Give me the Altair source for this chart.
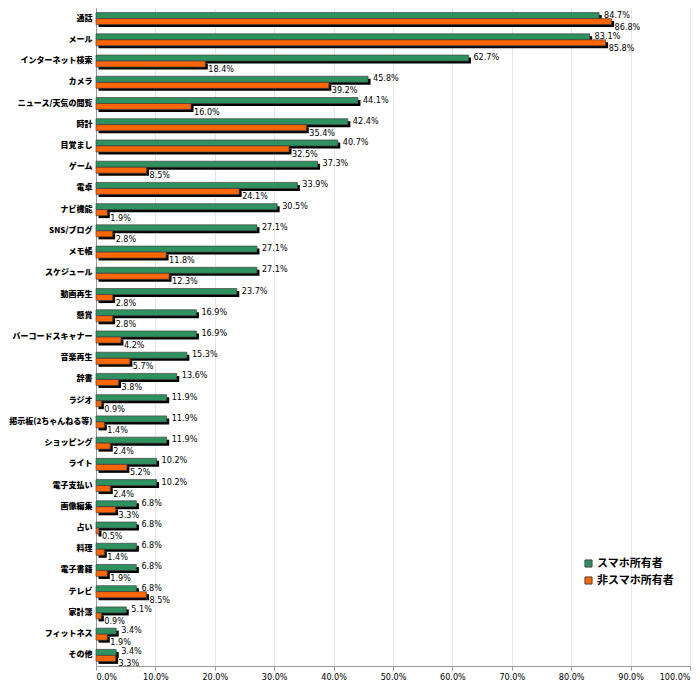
import altair as alt
import pandas as pd

categories = ["通話", "メール", "インターネット検索", "カメラ", "ニュース/天気の閲覧", "時計",
              "目覚まし", "ゲーム", "電卓", "ナビ機能", "SNS/ブログ", "メモ帳", "スケジュール",
              "動画再生", "懸賞", "バーコードスキャナー", "音楽再生", "辞書", "ラジオ",
              "掲示板(2ちゃんねる等)", "ショッピング", "ライト", "電子支払い", "画像編集", "占い",
              "料理", "電子書籍", "テレビ", "家計簿", "フィットネス", "その他"]
smartphone = [84.7, 83.1, 62.7, 45.8, 44.1, 42.4, 40.7, 37.3, 33.9, 30.5, 27.1, 27.1, 27.1,
              23.7, 16.9, 16.9, 15.3, 13.6, 11.9, 11.9, 11.9, 10.2, 10.2, 6.8, 6.8, 6.8, 6.8,
              6.8, 5.1, 3.4, 3.4]
non_smartphone = [86.8, 85.8, 18.4, 39.2, 16.0, 35.4, 32.5, 8.5, 24.1, 1.9, 2.8, 11.8, 12.3,
                  2.8, 2.8, 4.2, 5.7, 3.8, 0.9, 1.4, 2.4, 5.2, 2.4, 3.3, 0.5, 1.4, 1.9, 8.5,
                  0.9, 1.9, 3.3]
series_names = ["スマホ所有者", "非スマホ所有者"]
series_colors = ["#2e9160", "#ff6600"]
tick_values = [0, 10, 20, 30, 40, 50, 60, 70, 80, 90, 100]

rows = []
for c, a, b in zip(categories, smartphone, non_smartphone):
    rows.append({"cat": c, "series": series_names[0], "value": a, "label": f"{a:.1f}%"})
    rows.append({"cat": c, "series": series_names[1], "value": b, "label": f"{b:.1f}%"})
df = pd.DataFrame(rows)

NARROW = "DejaVu Sans Condensed, Liberation Sans Narrow, Roboto Condensed, Arial Narrow, sans-serif"
CJK = "Noto Sans CJK JP"

color_scale = alt.Scale(domain=series_names, range=series_colors)

base = alt.Chart(df).encode(
    y=alt.Y("cat:N", sort=categories,
            scale=alt.Scale(paddingInner=0, paddingOuter=0),
            axis=alt.Axis(title=None, ticks=False, domainColor="#999999",
                          labelFont=CJK, labelFontSize=8, labelFontWeight=900,
                          labelColor="black", labelPadding=4)),
    x=alt.X("value:Q", scale=alt.Scale(domain=[0, 100], nice=False),
            axis=alt.Axis(title=None, values=tick_values,
                          labelExpr="format(datum.value, '.1f') + '%'",
                          grid=True, gridColor="#e6e6e6", domainColor="#999999",
                          tickColor="#999999", tickSize=4, labelFont=NARROW,
                          labelFontSize=9, labelColor="black", labelPadding=2)),
)

is_s = alt.datum.series == series_names[0]
is_n = alt.datum.series == series_names[1]

s_shadow = base.transform_filter(is_s).mark_bar(color="black", height=6, xOffset=2.5, yOffset=-0.5)
s_bar = base.transform_filter(is_s).mark_bar(height=6, yOffset=-3, stroke="#444444", strokeWidth=0.7).encode(
    color=alt.Color("series:N", scale=color_scale,
                    legend=alt.Legend(title=None, orient="none", legendX=487, legendY=550,
                                      symbolType="square", symbolSize=50,
                                      symbolStrokeColor="black", symbolStrokeWidth=1,
                                      labelFont=CJK, labelFontSize=11, labelFontWeight="bold",
                                      labelColor="black", padding=0, rowPadding=4,
                                      labelOffset=3))
)
n_shadow = base.transform_filter(is_n).mark_bar(color="black", height=6, xOffset=2.5, yOffset=5.5)
n_bar = base.transform_filter(is_n).mark_bar(height=6, yOffset=3, stroke="#444444", strokeWidth=0.7).encode(
    color=alt.Color("series:N", scale=color_scale)
)
s_text = base.transform_filter(is_s).mark_text(align="left", baseline="middle", dx=5, dy=-4,
                                               font=NARROW, fontSize=9, color="black").encode(text="label:N")
n_text = base.transform_filter(is_n).mark_text(align="left", baseline="middle", dx=3, dy=8,
                                               font=NARROW, fontSize=9, color="black").encode(text="label:N")

chart = alt.layer(s_shadow, s_bar, n_shadow, n_bar, s_text, n_text).properties(
    width=594, height=658, padding={"left": 0, "top": 0, "right": 0, "bottom": 0},
    background="white"
).configure_view(stroke=None)

chart.save("out.html", embed_options={"renderer": "svg", "actions": False})
